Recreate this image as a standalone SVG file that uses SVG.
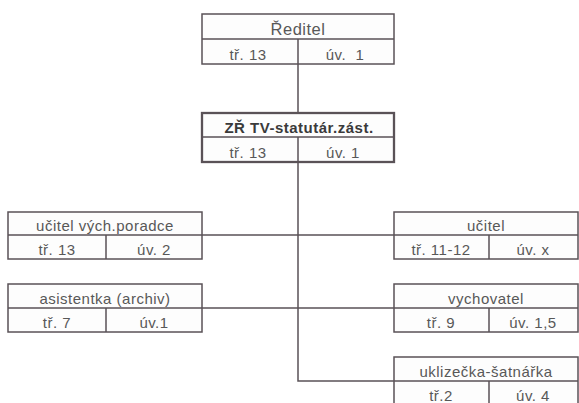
<svg xmlns="http://www.w3.org/2000/svg" width="579" height="403" viewBox="0 0 579 403">
<style>
.box{fill:#fdfdfd;stroke:#5a5257;stroke-width:1.5}
.bold{stroke-width:2.3}
.ln{stroke:#5a5257;stroke-width:1.5;fill:none}
text{font-family:"Liberation Sans",Arial,sans-serif;font-size:15px;letter-spacing:0.5px;fill:#585858;text-anchor:middle;white-space:pre}
.b{font-weight:bold;fill:#3a3a3a}
.big{font-size:16.5px}
</style>
<rect width="579" height="403" fill="#ffffff"/>
<g id="connectors">
<path class="ln" d="M298 64V113M298 162V381H394M202 235H298M202 308H298M298 235H394M298 308H394"/>
</g>
<g id="reditel">
<rect class="box" x="202" y="14" width="192" height="50"/>
<path class="ln" d="M202 39H394M298 39V64"/>
<text class="big" x="298" y="35">Ředitel</text>
<text x="248" y="60">tř. 13</text>
<text x="345" y="60">úv.  1</text>
</g>
<g id="zr">
<rect class="box bold" x="202" y="113" width="192" height="49"/>
<path class="ln" d="M202 137H394M298 137V162"/>
<text class="b" x="299" y="133">ZŘ TV-statutár.zást.</text>
<text x="248" y="158">tř. 13</text>
<text x="343" y="158">úv. 1</text>
</g>
<g id="ucitel-poradce">
<rect class="box" x="8" y="212" width="194" height="47"/>
<path class="ln" d="M8 235H202M106 235V259"/>
<text x="105" y="231">učitel vých.poradce</text>
<text x="57" y="255">tř. 13</text>
<text x="154" y="255">úv. 2</text>
</g>
<g id="asistentka">
<rect class="box" x="8" y="284" width="194" height="48"/>
<path class="ln" d="M8 308H202M106 308V332"/>
<text x="105" y="304">asistentka (archiv)</text>
<text x="57" y="328">tř. 7</text>
<text x="154" y="328">úv.1</text>
</g>
<g id="ucitel">
<rect class="box" x="394" y="212" width="184" height="47"/>
<path class="ln" d="M394 235H578M489 235V259"/>
<text x="486" y="231">učitel</text>
<text x="441" y="255">tř. 11-12</text>
<text x="533" y="255">úv. x</text>
</g>
<g id="vychovatel">
<rect class="box" x="394" y="284" width="184" height="48"/>
<path class="ln" d="M394 308H578M489 308V332"/>
<text x="486" y="304">vychovatel</text>
<text x="441" y="328">tř. 9</text>
<text x="533" y="328">úv. 1,5</text>
</g>
<g id="uklizecka">
<rect class="box" x="394" y="357" width="184" height="50"/>
<path class="ln" d="M394 381H578M489 381V407"/>
<text x="486" y="377">uklizečka-šatnářka</text>
<text x="441" y="401">tř.2</text>
<text x="533" y="401">úv. 4</text>
</g>
</svg>
